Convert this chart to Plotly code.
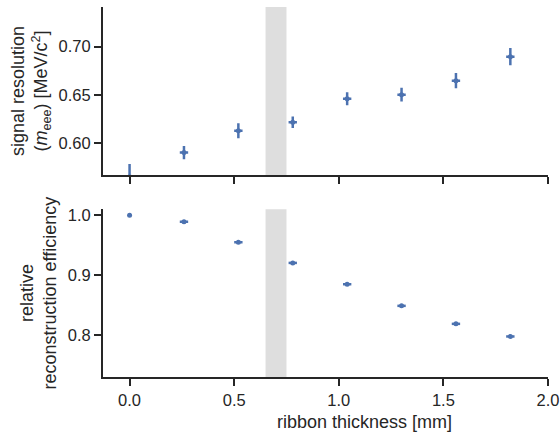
import plotly.graph_objects as go

thickness = [0.0, 0.26, 0.52, 0.78, 1.04, 1.30, 1.56, 1.82]
thickness_err = [0.0, 0.02, 0.02, 0.02, 0.02, 0.02, 0.02, 0.02]
resolution = [0.565, 0.5903, 0.613, 0.6217, 0.6461, 0.6503, 0.6648, 0.6896]
resolution_err = [0.0136, 0.0069, 0.0078, 0.006, 0.0067, 0.0072, 0.008, 0.009]
efficiency = [1.0, 0.989, 0.955, 0.9205, 0.885, 0.849, 0.819, 0.798]
efficiency_err = [0.0, 0.0018, 0.0018, 0.0018, 0.0018, 0.0018, 0.0018, 0.0018]
band = [0.65, 0.75]

BLUE = "#4C72B0"
TXT = "#262626"
FONT = "Liberation Sans, Arial, sans-serif"

fig = go.Figure()

common = dict(
    mode="markers",
    marker=dict(color=BLUE, size=5),
    showlegend=False,
)

fig.add_trace(go.Scatter(
    x=thickness, y=resolution,
    error_x=dict(type="data", array=thickness_err, color=BLUE, thickness=2.5, width=0),
    error_y=dict(type="data", array=resolution_err, color=BLUE, thickness=2.5, width=0),
    xaxis="x2", yaxis="y2", **common))

fig.add_trace(go.Scatter(
    x=thickness, y=efficiency,
    error_x=dict(type="data", array=thickness_err, color=BLUE, thickness=2.5, width=0),
    error_y=dict(type="data", array=efficiency_err, color=BLUE, thickness=2.5, width=0),
    xaxis="x", yaxis="y", **common))

for xr, yr in (("x", "y"), ("x2", "y2")):
    fig.add_shape(type="rect", xref=xr, yref=yr + " domain",
                  x0=band[0], x1=band[1], y0=0, y1=1,
                  fillcolor="#DEDEDE", line=dict(width=0), layer="below")

axis_common = dict(
    showline=True, linecolor=TXT, linewidth=2,
    ticks="outside", ticklen=7, tickwidth=1.8, tickcolor=TXT,
    showgrid=False, zeroline=False, mirror=False, automargin=False,
    tickfont=dict(family=FONT, size=16.5, color=TXT),
)

fig.update_layout(
    width=560, height=434,
    margin=dict(l=102.5, r=12.3, t=7, b=57.3, autoexpand=False),
    paper_bgcolor="white", plot_bgcolor="white",
    font=dict(family=FONT, color=TXT),
    xaxis=dict(domain=[0, 1], range=[-0.127, 2.0], anchor="y",
               tickvals=[0, 0.5, 1.0, 1.5, 2.0], tickformat=".1f", **axis_common),
    xaxis2=dict(domain=[0, 1], range=[-0.127, 2.0], anchor="y2", matches="x",
                tickvals=[0, 0.5, 1.0, 1.5, 2.0], showticklabels=False, **axis_common),
    yaxis=dict(domain=[0, 0.4536], range=[0.7305, 1.01], anchor="x",
               tickvals=[0.8, 0.9, 1.0], tickformat=".1f",
               title=dict(text="relative<br>reconstruction efficiency",
                          font=dict(family=FONT, size=18, color=TXT), standoff=6),
               **axis_common),
    yaxis2=dict(domain=[0.5456, 1], range=[0.567, 0.741], anchor="x2",
                tickvals=[0.60, 0.65, 0.70], tickformat=".2f",
                title=dict(text="signal resolution<br>(<i>m</i><sub>eee</sub>) [MeV/c<sup>2</sup>]",
                           font=dict(family=FONT, size=18, color=TXT), standoff=6),
                **axis_common),
)

fig.add_annotation(text="ribbon thickness [mm]", xref="paper", yref="paper",
                   x=0.5874, y=0, yshift=-33, xanchor="center", yanchor="top",
                   showarrow=False, font=dict(family=FONT, size=18, color=TXT))

fig.write_html("out.html",
               config={"displayModeBar": False},
               post_script="document.body.style.margin='0';document.body.style.overflow='hidden';")
